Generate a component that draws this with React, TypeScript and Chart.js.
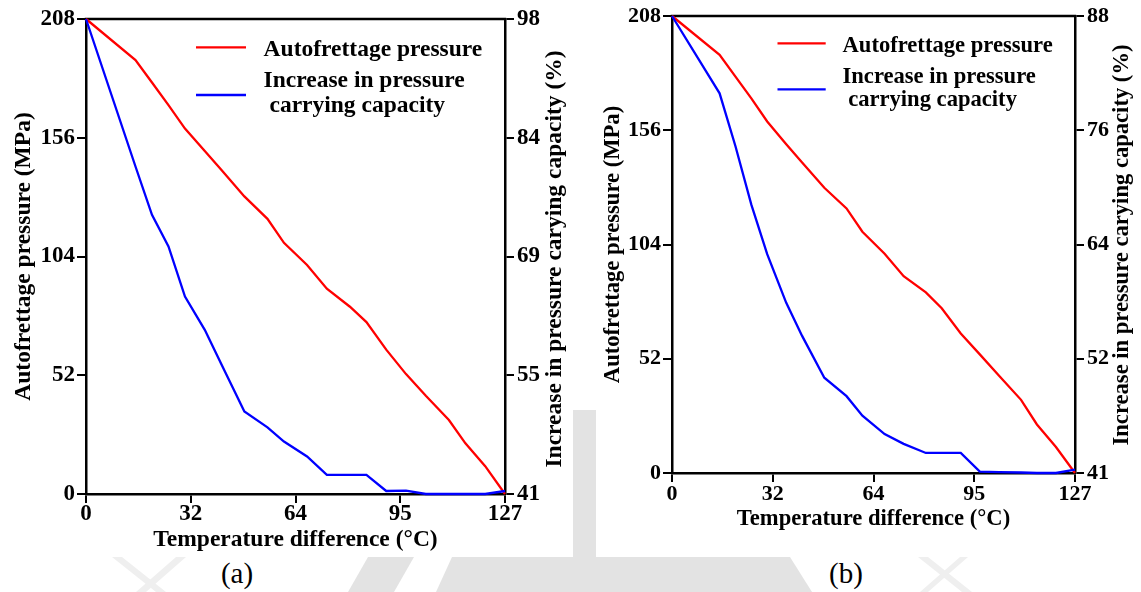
import React, { useEffect, useRef } from 'react';
import { Chart, registerables } from 'chart.js';

Chart.register(...registerables);

const SERIF = '"Liberation Serif", "Times New Roman", Times, serif';

// Temperature difference (°C) at each computed point
const tempDiff = [0, 15, 20, 25, 30, 36, 41, 48, 55, 60, 67, 73, 80, 85, 91, 97, 103, 110, 115, 121, 127];

// Case (a)
const pressureA = [208, 190, 180.2, 170.3, 160, 150.2, 142, 130.3, 120.5, 110, 100.3, 89.9, 82, 75.3, 63.2, 52.5, 43, 32.4, 22.2, 12.2, 0];
const capacityA = [98, 80.3, 74.5, 70.7, 64.7, 60.7, 56.6, 50.9, 49.0, 47.3, 45.5, 43.3, 43.3, 43.3, 41.36, 41.4, 41, 41, 41, 41, 41.36];

// Case (b)
const pressureB = [208, 190.3, 180.4, 170.5, 160, 149.6, 141.3, 129.8, 120.4, 109.8, 99.8, 89.6, 82.2, 75, 63.5, 54, 44.4, 33.3, 22.1, 11.8, 0];
const capacityB = [88, 80.05, 74.6, 68.6, 63.5, 58.5, 55.1, 50.8, 48.9, 46.9, 45.0, 44.0, 43.06, 43.06, 43.06, 41.15, 41.1, 41.05, 41, 41, 41.34];

// Tick labels (evenly spaced along each axis)
const tempTickLabels = ['0', '32', '64', '95', '127'];
const pressureTickLabels = ['0', '52', '104', '156', '208'];
const capacityTickLabelsA = ['41', '55', '69', '84', '98'];
const capacityTickLabelsB = ['41', '52', '64', '76', '88'];

const pressureLegend = ['Autofrettage pressure'];
const capacityLegend = ['Increase in pressure', ' carrying capacity'];
const xTitle = 'Temperature difference (°C)';
const yLeftTitle = 'Autofrettage pressure (MPa)';
const yRightTitle = 'Increase in pressure carying capacity (%)';
const captions = ['(a)', '(b)'];

const RED = '#ff0000';
const BLUE = '#0000ff';
const INK = '#000000';
const LINE_W = 2.3;
const FRAME_W = 2.5;

type LegendSpec = {
  x1: number;
  x2: number;
  textX: number;
  items: { lineY: number; textY: number[] }[];
};

type PanelSpec = {
  left: number;
  width: number;
  height: number;
  pressure: number[];
  capacity: number[];
  capMin: number;
  capMax: number;
  capTicks: string[];
  padTop: number;
  leftW: number;
  rightW: number;
  bottomH: number;
  tickSize: number;
  titleSize: number;
  xTickPad: number;
  xTitlePad: number;
  yTitlePad: number;
  rightTitleX: number;
  rightTitleY: number;
  legend: LegendSpec;
};

const panelA: PanelSpec = {
  left: 0,
  width: 573,
  height: 555,
  pressure: pressureA,
  capacity: capacityA,
  capMin: 41,
  capMax: 98,
  capTicks: capacityTickLabelsA,
  padTop: 19,
  leftW: 86,
  rightW: 68,
  bottomH: 61,
  tickSize: 23,
  titleSize: 23.5,
  xTickPad: 0,
  xTitlePad: 3.75,
  yTitlePad: 12.25,
  rightTitleX: 555,
  rightTitleY: 259,
  legend: {
    x1: 196,
    x2: 246,
    textX: 263.6,
    items: [
      { lineY: 47.3, textY: [49.5] },
      { lineY: 95, textY: [81.1, 106] },
    ],
  },
};

const panelB: PanelSpec = {
  left: 596,
  width: 545,
  height: 555,
  pressure: pressureB,
  capacity: capacityB,
  capMin: 41,
  capMax: 88,
  capTicks: capacityTickLabelsB,
  padTop: 16,
  leftW: 76,
  rightW: 66,
  bottomH: 82,
  tickSize: 22,
  titleSize: 22.6,
  xTickPad: 1.5,
  xTitlePad: 24.7,
  yTitlePad: 5.7,
  rightTitleX: 526,
  rightTitleY: 245,
  legend: {
    x1: 181.5,
    x2: 229.7,
    textX: 246.5,
    items: [
      { lineY: 43.3, textY: [45.8] },
      { lineY: 89.3, textY: [77.1, 100.4] },
    ],
  },
};

// Place ticks at evenly spaced values between the axis min and max
const evenTicks = (labels: string[]) => (scale: any) => {
  const { min, max } = scale;
  const n = labels.length - 1;
  scale.ticks = labels.map((_, i) => ({ value: min + (i * (max - min)) / n }));
};
const labelAt = (labels: string[]) => (_v: any, i: number) => labels[i];

// Top frame line, right-hand title (reading upward) and the legend block
const decorPlugin = {
  id: 'panelDecor',
  beforeDatasetsDraw(chart: any, _args: any, opts: any) {
    const { ctx, chartArea: a } = chart;
    ctx.save();
    ctx.strokeStyle = INK;
    ctx.lineWidth = FRAME_W;
    ctx.beginPath();
    ctx.moveTo(a.left - FRAME_W / 2, a.top);
    ctx.lineTo(a.right + FRAME_W / 2, a.top);
    ctx.stroke();
    ctx.restore();
  },
  afterDraw(chart: any, _args: any, opts: any) {
    const { ctx } = chart;
    const font = `bold ${opts.titleSize}px ${SERIF}`;

    ctx.save();
    ctx.fillStyle = INK;
    ctx.font = font;
    ctx.textAlign = 'center';
    ctx.textBaseline = 'middle';
    ctx.translate(opts.rightTitleX, opts.rightTitleY);
    ctx.rotate(-Math.PI / 2);
    ctx.fillText(yRightTitle, 0, 0);
    ctx.restore();

    const lg: LegendSpec = opts.legend;
    const texts: string[][] = opts.legendTexts;
    chart.data.datasets.forEach((ds: any, i: number) => {
      const item = lg.items[i];
      ctx.save();
      ctx.strokeStyle = ds.borderColor;
      ctx.lineWidth = ds.borderWidth;
      ctx.beginPath();
      ctx.moveTo(lg.x1, item.lineY);
      ctx.lineTo(lg.x2, item.lineY);
      ctx.stroke();
      ctx.fillStyle = INK;
      ctx.font = font;
      ctx.textAlign = 'left';
      ctx.textBaseline = 'middle';
      texts[i].forEach((t, j) => ctx.fillText(t, lg.textX, item.textY[j]));
      ctx.restore();
    });
  },
};

function buildConfig(p: PanelSpec): any {
  const tickFont = { family: SERIF, size: p.tickSize, weight: 'bold', lineHeight: 1 };
  const titleFont = { family: SERIF, size: p.titleSize, weight: 'bold', lineHeight: 1 };
  const grid = {
    drawOnChartArea: false,
    drawTicks: true,
    tickLength: 9,
    lineWidth: 2,
    tickWidth: 2,
    color: INK,
    tickColor: INK,
  };
  const border = { display: true, color: INK, width: FRAME_W };

  return {
    type: 'line',
    data: {
      datasets: [
        {
          label: pressureLegend.join(' '),
          data: tempDiff.map((t, i) => ({ x: t, y: p.pressure[i] })),
          yAxisID: 'y',
          borderColor: RED,
          backgroundColor: RED,
          borderWidth: LINE_W,
          pointRadius: 0,
          tension: 0,
          clip: false,
          order: 1,
        },
        {
          label: capacityLegend.join(' '),
          data: tempDiff.map((t, i) => ({ x: t, y: p.capacity[i] })),
          yAxisID: 'y2',
          borderColor: BLUE,
          backgroundColor: BLUE,
          borderWidth: LINE_W,
          pointRadius: 0,
          tension: 0,
          clip: false,
          order: 0,
        },
      ],
    },
    options: {
      responsive: false,
      animation: false,
      events: [],
      layout: { padding: { top: p.padTop, left: 0, right: 0, bottom: 0 } },
      plugins: {
        legend: { display: false },
        tooltip: { enabled: false },
        panelDecor: {
          titleSize: p.titleSize,
          rightTitleX: p.rightTitleX,
          rightTitleY: p.rightTitleY,
          legend: p.legend,
          legendTexts: [pressureLegend, capacityLegend],
        },
      },
      scales: {
        x: {
          type: 'linear',
          position: 'bottom',
          min: 0,
          max: 127,
          afterBuildTicks: evenTicks(tempTickLabels),
          afterFit: (s: any) => {
            s.height = p.bottomH;
          },
          ticks: {
            callback: labelAt(tempTickLabels),
            font: tickFont,
            color: INK,
            padding: p.xTickPad,
            autoSkip: false,
            maxRotation: 0,
            minRotation: 0,
          },
          grid,
          border,
          title: {
            display: true,
            text: xTitle,
            font: titleFont,
            color: INK,
            padding: { top: 0, bottom: p.xTitlePad },
          },
        },
        y: {
          type: 'linear',
          position: 'left',
          min: 0,
          max: 208,
          afterBuildTicks: evenTicks(pressureTickLabels),
          afterFit: (s: any) => {
            s.width = p.leftW;
          },
          ticks: {
            callback: labelAt(pressureTickLabels),
            font: tickFont,
            color: INK,
            padding: 2,
            autoSkip: false,
          },
          grid,
          border,
          title: {
            display: true,
            text: yLeftTitle,
            font: titleFont,
            color: INK,
            padding: { top: p.yTitlePad, bottom: 0 },
          },
        },
        y2: {
          type: 'linear',
          position: 'right',
          min: p.capMin,
          max: p.capMax,
          afterBuildTicks: evenTicks(p.capTicks),
          afterFit: (s: any) => {
            s.width = p.rightW;
          },
          ticks: {
            callback: labelAt(p.capTicks),
            font: tickFont,
            color: INK,
            padding: 3,
            autoSkip: false,
          },
          grid,
          border,
          title: { display: false },
        },
      },
    },
    plugins: [decorPlugin],
  };
}

function Panel({ spec }: { spec: PanelSpec }) {
  const ref = useRef<HTMLCanvasElement>(null);
  useEffect(() => {
    if (!ref.current) return;
    const chart = new Chart(ref.current, buildConfig(spec));
    return () => chart.destroy();
  }, [spec]);
  return (
    <canvas
      ref={ref}
      width={spec.width}
      height={spec.height}
      style={{
        position: 'absolute',
        left: spec.left,
        top: 0,
        width: spec.width,
        height: spec.height,
      }}
    />
  );
}

// Light grey backdrop shapes behind the two panels
const shade = '#e3e3e3';
const faint = '#efefef';
const backdrop: { color: string; poly: string }[] = [
  { color: shade, poly: '573px 410px, 596px 410px, 596px 557px, 573px 557px' },
  { color: shade, poly: '368px 557px, 414px 557px, 394px 592px, 348px 592px' },
  { color: shade, poly: '452px 557px, 790px 557px, 812px 592px, 436px 592px' },
  { color: faint, poly: '112px 557px, 122px 557px, 166px 592px, 156px 592px' },
  { color: faint, poly: '176px 557px, 186px 557px, 146px 592px, 136px 592px' },
  { color: faint, poly: '918px 557px, 928px 557px, 972px 592px, 962px 592px' },
  { color: faint, poly: '960px 557px, 968px 557px, 928px 592px, 920px 592px' },
];

export default function App() {
  const captionX = [237, 846];
  return (
    <div
      style={{
        position: 'fixed',
        left: 0,
        top: 0,
        width: 1141,
        height: 592,
        background: '#ffffff',
        overflow: 'hidden',
      }}
    >
      {backdrop.map((b, i) => (
        <div
          key={i}
          style={{
            position: 'absolute',
            left: 0,
            top: 0,
            width: 1141,
            height: 592,
            background: b.color,
            clipPath: `polygon(${b.poly})`,
          }}
        />
      ))}
      <Panel spec={panelA} />
      <Panel spec={panelB} />
      {captions.map((c, i) => (
        <div
          key={c}
          style={{
            position: 'absolute',
            left: captionX[i] - 50,
            top: 558,
            width: 100,
            textAlign: 'center',
            fontFamily: SERIF,
            fontSize: 29,
            lineHeight: '30px',
            color: INK,
          }}
        >
          {c}
        </div>
      ))}
    </div>
  );
}
